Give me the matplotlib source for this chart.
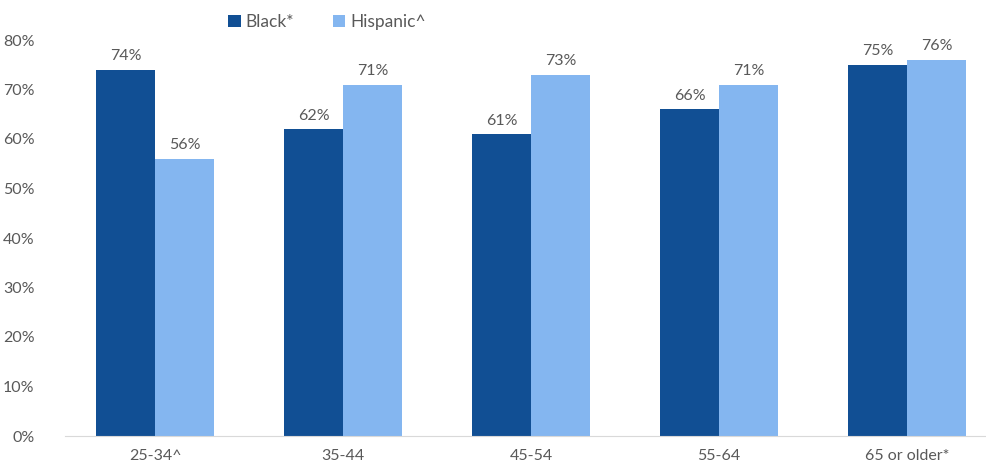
import numpy as np
import matplotlib.pyplot as plt

categories = ["25-34^", "35-44", "45-54", "55-64", "65 or older*"]
black = [74, 62, 61, 66, 75]
hispanic = [56, 71, 73, 71, 76]
series_names = ["Black*", "Hispanic^"]

dark = "#114F94"
light = "#84B6F0"
grey = "#595959"

plt.rcParams["font.family"] = ["Lato", "DejaVu Sans"]

fig = plt.figure(figsize=(9.87, 4.70), dpi=100)
ax = fig.add_axes([65 / 987, 34 / 470, 922 / 987, 396 / 470])

x = np.arange(len(categories))
w = 0.315
b1 = ax.bar(x - w / 2, black, w, color=dark, label=series_names[0])
b2 = ax.bar(x + w / 2, hispanic, w, color=light, label=series_names[1])

for bars, vals in ((b1, black), (b2, hispanic)):
    for r, v in zip(bars, vals):
        ax.text(r.get_x() + r.get_width() / 2, v + 1.3, f"{v}%", ha="center",
                va="bottom", fontsize=11.5, color=grey)

ax.set_xlim(-0.48, 4.425)
ax.set_ylim(0, 80)
ax.set_yticks(np.arange(0, 81, 10))
ax.set_yticklabels([f"{t}%" for t in range(0, 81, 10)])
ax.set_xticks(x)
ax.set_xticklabels(categories)
ax.tick_params(axis="both", length=0, labelsize=11.5, colors=grey)
ax.tick_params(axis="x", pad=9)
ax.tick_params(axis="y", pad=22)
for s in ["top", "right", "left"]:
    ax.spines[s].set_visible(False)
ax.spines["bottom"].set_color("#D9D9D9")

ax.legend(loc="upper center", bbox_to_anchor=(262 / 922, 1.105), ncol=2, frameon=False,
          fontsize=12.5, labelcolor=grey, handlelength=0.7, handleheight=0.7,
          handletextpad=0.3, columnspacing=2.2)

fig.savefig("out.png", dpi=100)
